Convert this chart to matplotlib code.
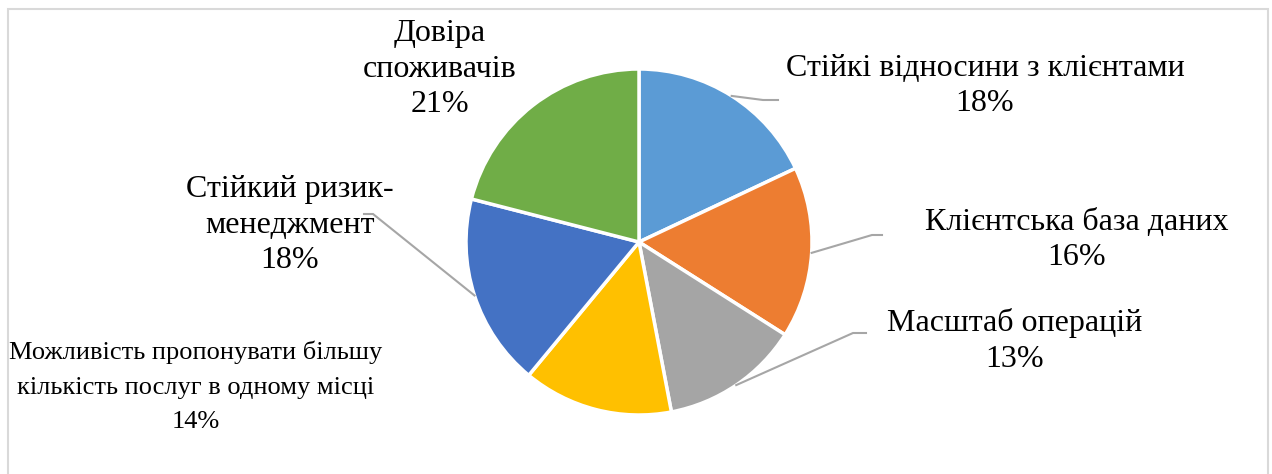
import numpy as np
import matplotlib.pyplot as plt
from matplotlib.patches import Rectangle

# data
labels = [
    "Стійкі відносини з клієнтами",
    "Клієнтська база даних",
    "Масштаб операцій",
    "Можливість пропонувати більшу\nкількість послуг в одному місці",
    "Стійкий ризик-\nменеджмент",
    "Довіра\nспоживачів",
]
shares = [18, 16, 13, 14, 18, 21]
colors = ["#5B9BD5", "#ED7D31", "#A5A5A5", "#FFC000", "#4472C4", "#70AD47"]

# label layout (pixel coords, y down): text centre, leader elbow, leader end
text_pos = [(985, 86), (1077, 240), (1015, 341), (196, 387), (290, 225), (440, 69)]
elbows = [(763, 100), (872, 235), (853, 333), None, (373, 214), None]
ends = [(778, 100), (882, 235), (866, 333), None, (364, 214), None]
# the long bottom-left label is squeezed in the original
sizes = [23, 23, 23, 19, 23, 23]
spacing = [1.3, 1.3, 1.3, 1.75, 1.3, 1.3]

plt.rcParams['font.family'] = ['Liberation Serif', 'DejaVu Serif']

W, H = 1272, 474
fig = plt.figure(figsize=(W / 100, H / 100), dpi=100)
ax = fig.add_axes([0, 0, 1, 1])

cx, cy, r = 639, -242, 173
wedges, _ = ax.pie(shares, colors=colors, startangle=90, counterclock=False,
                   center=(cx, cy), radius=r,
                   wedgeprops=dict(edgecolor='white', linewidth=2.5))
ax.set_xlim(0, W)
ax.set_ylim(-H, 0)
ax.set_aspect('equal')
ax.axis('off')

total = sum(shares)
for i, (lab, v) in enumerate(zip(labels, shares)):
    w = wedges[i]
    mid = np.deg2rad((w.theta1 + w.theta2) / 2)
    pct = f"{round(v / total * 100)}%"
    tx, ty = text_pos[i]
    ax.text(tx, -ty, lab + "\n" + pct, ha='center', va='center',
            fontsize=sizes[i], color='black', linespacing=spacing[i])
    if elbows[i] is not None:
        sx, sy = cx + r * np.cos(mid), cy + r * np.sin(mid)
        ex, ey = elbows[i]
        fx, fy = ends[i]
        ax.plot([sx, ex, fx], [sy, -ey, -fy], color='#A6A6A6', lw=1.5,
                solid_joinstyle='miter')

# chart border
ax.add_patch(Rectangle((8, -H - 5), 1260, H - 4, fill=False,
                       edgecolor='#D9D9D9', lw=1.5, clip_on=False))

fig.savefig('out.png', dpi=100)
